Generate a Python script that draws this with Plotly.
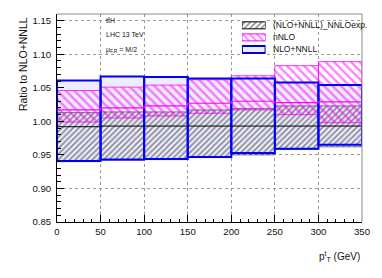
import plotly.graph_objects as go

# ---------------- data ----------------
bin_edges = [0, 50, 100, 150, 200, 250, 300, 350]

# NLO+NNLL (blue boxes)
nlo_nnll_lo = [0.941, 0.943, 0.944, 0.947, 0.953, 0.959, 0.965]
nlo_nnll_hi = [1.061, 1.067, 1.066, 1.064, 1.064, 1.058, 1.054]

# nNLO (magenta hatched)
nnlo_lo = [0.999, 1.005, 1.008, 1.012, 1.017, 1.010, 0.998]
nnlo_c = [1.017, 1.020, 1.023, 1.027, 1.030, 1.028, 1.029]
nnlo_hi = [1.046, 1.051, 1.054, 1.062, 1.068, 1.083, 1.089]

# (NLO+NNLL)_NNLOexp. (grey hatched)
exp_lo = [0.940, 0.942, 0.943, 0.946, 0.950, 0.958, 0.962]
exp_c = [0.992, 0.993, 0.993, 0.993, 0.993, 0.993, 0.993]
exp_hi = [1.013, 1.014, 1.014, 1.017, 1.019, 1.023, 1.023]

x_ticks = [0, 50, 100, 150, 200, 250, 300, 350]
y_ticks = [0.85, 0.90, 0.95, 1.00, 1.05, 1.10, 1.15]
legend_labels = ["(NLO+NNLL)_NNLOexp.", "nNLO", "NLO+NNLL"]
info_lines = ["tt\u0304H", "LHC 13 TeV", "\u03bc<sub>F,R</sub> = M/2"]

# ---------------- derived ----------------
centers = [(a + b) / 2 for a, b in zip(bin_edges[:-1], bin_edges[1:])]
widths = [b - a for a, b in zip(bin_edges[:-1], bin_edges[1:])]

FONT = "Liberation Sans, Arial, sans-serif"
BLUE = "#0000ff"
LAV = "#ededff"
MAG = "#ff00ff"
GREY_HATCH = "#2a2a2a"

fig = go.Figure()

# blue box fill
fig.add_trace(go.Bar(
    x=centers, width=widths, base=nlo_nnll_lo,
    y=[h - l for h, l in zip(nlo_nnll_hi, nlo_nnll_lo)],
    marker=dict(color=LAV, line=dict(width=0)), hoverinfo="skip"))

# grey hatched band
fig.add_trace(go.Bar(
    x=centers, width=widths, base=exp_lo,
    y=[h - l for h, l in zip(exp_hi, exp_lo)],
    marker=dict(color="rgba(0,0,0,0)",
                line=dict(color="#555555", width=0.8),
                pattern=dict(shape="/", fgcolor=GREY_HATCH, bgcolor="rgba(0,0,0,0)",
                             size=4, solidity=0.45, fillmode="overlay")),
    hoverinfo="skip"))

# magenta hatched band
fig.add_trace(go.Bar(
    x=centers, width=widths, base=nnlo_lo,
    y=[h - l for h, l in zip(nnlo_hi, nnlo_lo)],
    marker=dict(color="rgba(0,0,0,0)",
                line=dict(color=MAG, width=0.8),
                pattern=dict(shape="\\", fgcolor=MAG, bgcolor="rgba(0,0,0,0)",
                             size=6, solidity=0.4, fillmode="overlay")),
    hoverinfo="skip"))

# central lines
fig.add_trace(go.Scatter(
    x=bin_edges, y=exp_c + [exp_c[-1]], mode="lines", line_shape="hv",
    line=dict(color="black", width=1), hoverinfo="skip"))
fig.add_trace(go.Scatter(
    x=bin_edges, y=nnlo_c + [nnlo_c[-1]], mode="lines", line_shape="hv",
    line=dict(color=MAG, width=1.2), hoverinfo="skip"))

# blue box outline on top
fig.add_trace(go.Bar(
    x=centers, width=widths, base=nlo_nnll_lo,
    y=[h - l for h, l in zip(nlo_nnll_hi, nlo_nnll_lo)],
    marker=dict(color="rgba(0,0,0,0)", line=dict(color=BLUE, width=2)),
    hoverinfo="skip"))

# ---------------- legend swatches (secondary axes) ----------------
swatch_rows = [2.5, 1.5, 0.5]
sw_h = 0.58
fig.add_trace(go.Bar(
    x=[0], y=[sw_h], base=[swatch_rows[0] - sw_h / 2], width=[1],
    xaxis="x2", yaxis="y2",
    marker=dict(color="white", line=dict(color="black", width=1),
                pattern=dict(shape="/", fgcolor=GREY_HATCH, bgcolor="white",
                             size=4, solidity=0.45, fillmode="overlay")),
    hoverinfo="skip"))
fig.add_trace(go.Bar(
    x=[0], y=[sw_h], base=[swatch_rows[1] - sw_h / 2], width=[1],
    xaxis="x2", yaxis="y2",
    marker=dict(color="white", line=dict(color=MAG, width=1),
                pattern=dict(shape="\\", fgcolor=MAG, bgcolor="white",
                             size=5, solidity=0.4, fillmode="overlay")),
    hoverinfo="skip"))
fig.add_trace(go.Bar(
    x=[0], y=[sw_h], base=[swatch_rows[2] - sw_h / 2], width=[1],
    xaxis="x2", yaxis="y2",
    marker=dict(color=LAV, line=dict(color="#0000cc", width=2)),
    hoverinfo="skip"))

# ---------------- layout ----------------
W, H = 382, 278
ml, mr, mt, mb = 57, 15, 14, 56
pw, ph = W - ml - mr, H - mt - mb


def px2paper_x(px):
    return (px - ml) / pw


def px2paper_y(py):
    return (H - mb - py) / ph


axis_common = dict(
    showline=True, linecolor="black", linewidth=1,
    ticks="inside", tickcolor="black",
    showgrid=True, gridcolor="#9a9a9a", griddash="dot", gridwidth=1,
    zeroline=False,
    tickfont=dict(family=FONT, size=9.6, color="#111111"),
)

fig.update_layout(
    width=W, height=H,
    margin=dict(l=ml, r=mr, t=mt, b=mb),
    plot_bgcolor="white", paper_bgcolor="white",
    showlegend=False, barmode="overlay", bargap=0,
    xaxis=dict(range=[0, 350], tickvals=x_ticks, ticklen=7,
               minor=dict(dtick=10, ticklen=3.5, ticks="inside", tickcolor="black"),
               **axis_common),
    yaxis=dict(range=[0.85, 1.16], tickvals=y_ticks, tickformat=".2f", ticklen=7,
               ticklabelstandoff=3,
               minor=dict(dtick=0.01, ticklen=3.5, ticks="inside", tickcolor="black"),
               **axis_common),
    xaxis2=dict(domain=[px2paper_x(245), px2paper_x(269)], range=[-0.5, 0.5],
                visible=False, anchor="y2", fixedrange=True),
    yaxis2=dict(domain=[px2paper_y(55.5), px2paper_y(19.3)], range=[0, 3],
                visible=False, anchor="x2", fixedrange=True),
)

# frame (top, right)
fig.add_shape(type="line", xref="paper", yref="paper", x0=0, x1=1, y0=1, y1=1,
              line=dict(color="#8a8a8a", width=1))
fig.add_shape(type="line", xref="paper", yref="paper", x0=1, x1=1, y0=0, y1=1,
              line=dict(color="#8a8a8a", width=1))

# legend texts
for lab, py in zip(legend_labels, [25.3, 37.4, 49.5]):
    fig.add_annotation(text=lab, xref="paper", yref="paper",
                       x=px2paper_x(275), y=px2paper_y(py),
                       xanchor="left", yanchor="middle", showarrow=False,
                       font=dict(family=FONT, size=8.5, color="#111111"))

# info texts
for txt, py in zip(info_lines, [20.7, 34.7, 50.0]):
    fig.add_annotation(text=txt, xref="paper", yref="paper",
                       x=px2paper_x(105), y=px2paper_y(py),
                       xanchor="left", yanchor="middle", showarrow=False,
                       font=dict(family=FONT, size=7, color="#111111"))

# axis titles
fig.add_annotation(text="Ratio to NLO+NNLL", textangle=-90,
                   xref="paper", yref="paper",
                   x=px2paper_x(22.5), y=px2paper_y(15),
                   xanchor="center", yanchor="top", showarrow=False,
                   font=dict(family=FONT, size=10.5, color="#111111"))
fig.add_annotation(text="p<sup>t</sup><sub>T</sub> (GeV)",
                   xref="paper", yref="paper",
                   x=1.0, y=px2paper_y(256),
                   xanchor="right", yanchor="middle", showarrow=False,
                   font=dict(family=FONT, size=10, color="#111111"))

fig.write_html("out.html",
               config={"displayModeBar": False, "staticPlot": True},
               post_script="document.body.style.margin='0';document.body.style.overflow='hidden';")
